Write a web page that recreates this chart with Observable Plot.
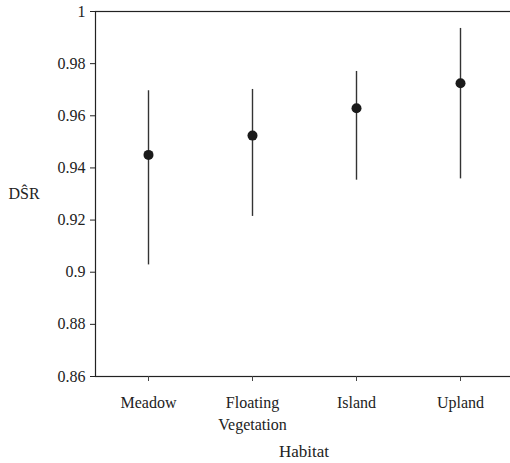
<!DOCTYPE html>
<html><head><meta charset="utf-8">
<script src="https://cdn.jsdelivr.net/npm/d3@7"></script>
<script src="https://cdn.jsdelivr.net/npm/@observablehq/plot@0.6"></script>
<style>body{margin:0;background:#fff;overflow:hidden}</style>
</head><body><div id="chart"></div>
<script>
const habitats = ["Meadow", "Floating Vegetation", "Island", "Upland"];
const tickLabels = ["Meadow", "Floating\nVegetation", "Island", "Upland"];
const dsr = [0.945, 0.9524, 0.9629, 0.9725];
const lower = [0.9028, 0.9214, 0.9353, 0.9358];
const upper = [0.9696, 0.9701, 0.9770, 0.9935];
const yTicks = [0.86, 0.88, 0.9, 0.92, 0.94, 0.96, 0.98, 1];
const yTickLabels = ["0.86", "0.88", "0.9", "0.92", "0.94", "0.96", "0.98", "1"];

const data = habitats.map((h, i) => ({h, v: dsr[i], lo: lower[i], hi: upper[i]}));

const chart = Plot.plot({
  width: 510, height: 463,
  marginLeft: 95, marginRight: -2, marginTop: 11, marginBottom: 87,
  style: {fontFamily: "'Liberation Serif', 'DejaVu Serif', serif", fontSize: "16px", color: "#222", background: "#fff"},
  x: {type: "point", domain: habitats, padding: 0.5},
  y: {domain: [0.86, 1]},
  marks: [
    Plot.frame({stroke: "#222", strokeWidth: 1.2}),
    Plot.axisY({ticks: yTicks, tickFormat: (d) => yTickLabels[yTicks.indexOf(d)] ?? d, tickSize: 5, tickPadding: 5, label: null, stroke: "#222", fontSize: 16, style: {letterSpacing: "0.8px"}}),
    Plot.axisX({tickFormat: (d) => tickLabels[habitats.indexOf(d)], tickSize: 5, tickPadding: 11, lineHeight: 1.375, label: null, stroke: "#444", fontSize: 16}),
    Plot.text(["Habitat"], {frameAnchor: "bottom", lineAnchor: "middle", dy: 75, fontSize: 17, fill: "#222"}),
    Plot.text(["DS\u0302R"], {frameAnchor: "left", textAnchor: "start", lineAnchor: "middle", dx: -87, dy: 0, fontSize: 16, fill: "#222"}),
    Plot.ruleX(data, {x: "h", y1: "lo", y2: "hi", stroke: "#333", strokeWidth: 1.4}),
    Plot.dot(data, {x: "h", y: "v", r: 5, fill: "#1a1a1a", stroke: "none"})
  ]
});
document.getElementById("chart").append(chart);
</script>
</body></html>
